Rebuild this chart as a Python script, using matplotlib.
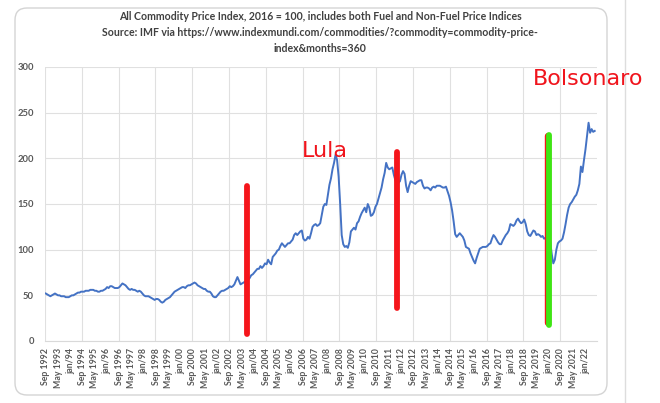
import matplotlib
matplotlib.use("Agg")
import matplotlib.pyplot as plt
from matplotlib.patches import FancyBboxPatch
from matplotlib.lines import Line2D
from matplotlib.transforms import IdentityTransform
import numpy as np

plt.rcParams['font.family'] = ['Lato', 'DejaVu Sans']

# IMF All Commodity Price Index (2016 = 100), monthly, starting Sep 1992
start_year, start_month = 1992, 9
idx_1992 = [52, 51, 50, 49]
idx_1993 = [50, 51, 52, 51, 50, 50, 49, 49, 49, 48, 48, 48]
idx_1994 = [49, 50, 50, 51, 52, 53, 53, 54, 54, 54, 55, 55]
idx_1995 = [55, 56, 56, 56, 55, 55, 54, 54, 55, 55, 56, 57]
idx_1996 = [59, 58, 60, 60, 59, 58, 58, 58, 59, 61, 63, 62]
idx_1997 = [61, 59, 57, 56, 57, 56, 56, 55, 54, 55, 54, 52]
idx_1998 = [50, 49, 49, 49, 48, 47, 46, 45, 46, 46, 45, 43]
idx_1999 = [42, 43, 45, 46, 47, 48, 50, 52, 54, 55, 56, 57]
idx_2000 = [58, 59, 59, 58, 60, 61, 61, 62, 63, 64, 63, 61]
idx_2001 = [60, 59, 58, 57, 57, 55, 54, 54, 52, 49, 48, 48]
idx_2002 = [50, 52, 54, 55, 55, 56, 57, 58, 60, 59, 60, 62]
idx_2003 = [66, 70, 66, 62, 63, 64, 65, 66, 67, 69, 72, 73]
idx_2004 = [75, 77, 79, 79, 82, 80, 82, 85, 84, 89, 86, 84]
idx_2005 = [92, 94, 96, 99, 100, 104, 107, 105, 103, 105, 107, 107]
idx_2006 = [109, 111, 116, 118, 116, 118, 120, 121, 112, 110, 111, 114]
idx_2007 = [112, 118, 125, 127, 128, 126, 127, 129, 138, 147, 150, 149]
idx_2008 = [160, 171, 178, 188, 195, 204, 198, 180, 150, 116, 106, 103]
idx_2009 = [104, 102, 108, 120, 122, 124, 122, 129, 131, 136, 140, 143]
idx_2010 = [146, 141, 150, 146, 137, 138, 141, 147, 150, 156, 162, 168]
idx_2011 = [177, 184, 195, 190, 188, 189, 190, 182, 176, 171, 173, 175]
idx_2012 = [182, 186, 183, 170, 163, 170, 175, 174, 173, 172, 174, 175]
idx_2013 = [176, 176, 170, 167, 168, 168, 167, 165, 168, 169, 168, 170]
idx_2014 = [170, 170, 169, 168, 168, 169, 164, 159, 152, 143, 131, 117]
idx_2015 = [114, 116, 118, 116, 114, 110, 103, 102, 101, 96, 92, 88]
idx_2016 = [85, 91, 96, 101, 102, 103, 103, 103, 104, 106, 107, 112]
idx_2017 = [116, 114, 111, 108, 106, 106, 110, 113, 116, 118, 121, 128]
idx_2018 = [127, 126, 128, 132, 134, 131, 129, 130, 133, 128, 120, 116]
idx_2019 = [115, 118, 121, 120, 116, 117, 116, 114, 115, 112, 113, 117]
idx_2020 = [115, 108, 95, 85, 89, 100, 107, 109, 110, 112, 119, 128]
idx_2021 = [138, 146, 150, 152, 155, 158, 160, 165, 172, 191, 185, 198]
idx_2022 = [210, 224, 239, 228, 232, 229, 230]

values = (idx_1992 + idx_1993 + idx_1994 + idx_1995 + idx_1996 + idx_1997
          + idx_1998 + idx_1999 + idx_2000 + idx_2001 + idx_2002 + idx_2003
          + idx_2004 + idx_2005 + idx_2006 + idx_2007 + idx_2008 + idx_2009
          + idx_2010 + idx_2011 + idx_2012 + idx_2013 + idx_2014 + idx_2015
          + idx_2016 + idx_2017 + idx_2018 + idx_2019 + idx_2020 + idx_2021
          + idx_2022)

tick_labels = ["Sep 1992", "May 1993", "jan/94", "Sep 1994", "May 1995", "jan/96",
               "Sep 1996", "May 1997", "jan/98", "Sep 1998", "May 1999", "jan/00",
               "Sep 2000", "May 2001", "jan/02", "Sep 2002", "May 2003", "jan/04",
               "Sep 2004", "May 2005", "jan/06", "Sep 2006", "May 2007", "jan/08",
               "Sep 2008", "May 2009", "jan/10", "Sep 2010", "May 2011", "jan/12",
               "Sep 2012", "May 2013", "jan/14", "Sep 2014", "May 2015", "jan/16",
               "Sep 2016", "May 2017", "jan/18", "Sep 2018", "May 2019", "jan/20",
               "Sep 2020", "May 2021", "jan/22"]

# hand-drawn markers (year, month), bottom and top in index units
marker_dates = [(2003, 8), (2011, 10), (2020, 1)]
marker_low = [8, 36, 18]
marker_high = [170, 207, 225]
marker_colors = ["#f5151b", "#f5151b", "#3ee614"]


def month_pos(year, month):
    return (year - start_year) * 12 + (month - start_month)


fig = plt.figure(figsize=(6.6, 4.03), dpi=100)
ax = fig.add_axes([45 / 660, 62 / 403, 552 / 660, 274 / 403])

x = np.arange(len(values))
ax.plot(x, values, color="#4472C4", lw=1.4, zorder=3)

ax.set_xlim(-0.5, 359.5)
ax.set_ylim(0, 300)
ax.set_yticks(range(0, 301, 50))
ax.set_xticks(range(0, 8 * len(tick_labels), 8))
ax.set_xticklabels(tick_labels, rotation=90)
ax.set_xticks(np.arange(-0.5, 359, 24), minor=True)
ax.tick_params(axis="x", which="both", length=0, pad=5, labelsize=6.3, colors="#595959")
ax.tick_params(axis="y", length=0, pad=8, labelsize=6.8, colors="#595959")
for lab in ax.get_yticklabels() + ax.get_xticklabels():
    lab.set_fontweight("bold")
ax.grid(axis="y", color="#e0e0e0", lw=0.8)
ax.grid(axis="x", which="minor", color="#e0e0e0", lw=0.8)
ax.grid(axis="x", which="major", visible=False)
for s in ["top", "right", "left"]:
    ax.spines[s].set_visible(False)
ax.spines["bottom"].set_color("#d9d9d9")
ax.set_axisbelow(True)

# red under the green line shows at the edges
ax.plot([month_pos(2019, 12) + 0.6] * 2, [20, 224], color="#f5151b", lw=4.6,
        solid_capstyle="round", zorder=4)
for (yy, mm), lo, hi, c in zip(marker_dates, marker_low, marker_high, marker_colors):
    ax.plot([month_pos(yy, mm)] * 2, [lo, hi], color=c, lw=4.2,
            solid_capstyle="round", zorder=5)

ax.text(167, 201, "Lula", color="#f0141c", fontsize=16, family="DejaVu Sans",
        va="baseline", ha="left", zorder=6)
fig.text(533 / 660, (403 - 85) / 403, "Bolsonaro", color="#f0141c", fontsize=16,
         family="DejaVu Sans", va="baseline", ha="left")

fig.text(320 / 660, (403 - 11) / 403,
         "All Commodity Price Index, 2016 = 100, includes both Fuel and Non-Fuel Price Indices\n"
         "Source: IMF via https://www.indexmundi.com/commodities/?commodity=commodity-price-\n"
         "index&months=360",
         ha="center", va="top", fontsize=7.6, color="#404040", fontweight="bold",
         linespacing=1.55)

frame = FancyBboxPatch((15, 8), 592, 387, boxstyle="round,pad=0,rounding_size=12",
                       transform=IdentityTransform(), facecolor="none",
                       edgecolor="#d4d4d4", lw=1.0)
fig.add_artist(frame)
fig.add_artist(Line2D([625, 625], [0, 403], transform=IdentityTransform(),
                      color="#dddddd", lw=1.0))

fig.savefig("out.png", dpi=100)
